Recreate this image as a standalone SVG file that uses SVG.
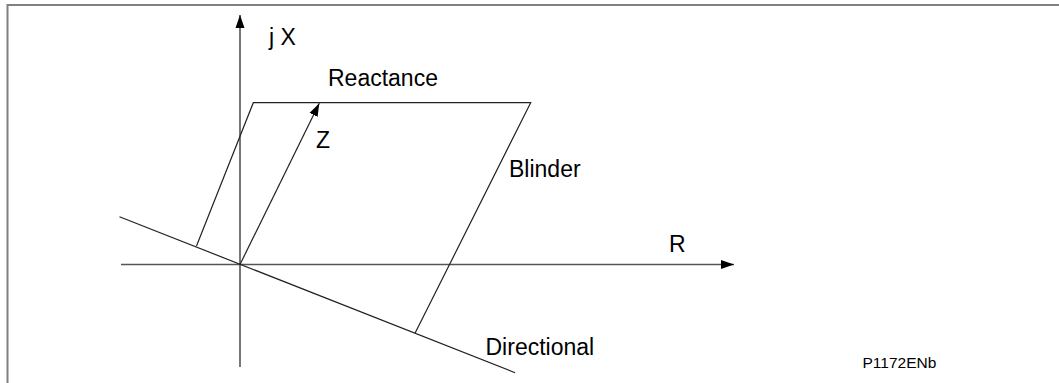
<svg xmlns="http://www.w3.org/2000/svg" width="1059" height="383" viewBox="0 0 1059 383">
<style>
.t{font-family:"Liberation Sans",Arial,sans-serif;font-size:23px;fill:#000}
.s{font-family:"Liberation Sans",Arial,sans-serif;font-size:15.5px;fill:#000}
.ax{stroke:#555;stroke-width:1.6;fill:none}
.ln{stroke:#222;stroke-width:1.2;fill:none}
</style>
<defs>
<marker id="ah" markerUnits="userSpaceOnUse" markerWidth="13" markerHeight="10" refX="13" refY="5" orient="auto">
<path d="M0,0.5 L13,5 L0,9.5 z" fill="#000"/>
</marker>
</defs>
<rect x="7.5" y="5" width="1100" height="420" fill="#fff" stroke="#808080" stroke-width="2"/>
<g id="connectors">
<line id="x-axis" class="ax" x1="121" y1="264.5" x2="734" y2="264.5" marker-end="url(#ah)"/>
<line id="y-axis" class="ax" x1="240" y1="367" x2="240" y2="15" marker-end="url(#ah)"/>
<line id="directional" class="ln" x1="119.5" y1="216.7" x2="515" y2="372.7"/>
<polyline id="reactance" class="ln" points="196.5,246 253.3,102.7 530.7,102.7 415,333.3"/>
<line id="z-vector" class="ln" x1="240" y1="264.5" x2="319.3" y2="103.3" marker-end="url(#ah)"/>
</g>
<g id="labels">
<text class="t" x="269" y="45">j X</text>
<text class="t" x="328" y="86">Reactance</text>
<text class="t" x="316" y="148">Z</text>
<text class="t" x="509" y="177">Blinder</text>
<text class="t" x="669" y="252">R</text>
<text class="t" x="485.5" y="355">Directional</text>
<text class="s" x="862.5" y="368">P1172ENb</text>
</g>
</svg>
